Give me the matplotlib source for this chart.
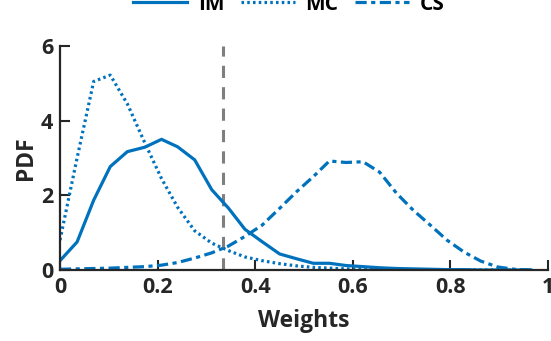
import matplotlib
matplotlib.use("Agg")
import matplotlib.pyplot as plt

# grid of weights shared by the three density estimates
weights = [0.0, 0.035, 0.069, 0.103, 0.138, 0.174, 0.208, 0.241, 0.276, 0.311,
           0.345, 0.379, 0.414, 0.45, 0.485, 0.519, 0.552, 0.586, 0.621, 0.655,
           0.69, 0.724, 0.759, 0.793, 0.828, 0.862, 0.897, 0.931, 0.965]

pdf_im = [0.25, 0.75, 1.87, 2.77, 3.17, 3.29, 3.5, 3.3, 2.95, 2.15,
          1.66, 1.09, 0.76, 0.43, 0.3, 0.18, 0.18, 0.12, 0.09, 0.06,
          0.04, 0.03, 0.02, 0.01, 0.01, 0.0, 0.0, 0.0, 0.0]

pdf_mc = [0.8, 3.0, 5.05, 5.22, 4.45, 3.4, 2.45, 1.68, 1.05, 0.72,
          0.52, 0.35, 0.25, 0.17, 0.11, 0.07, 0.05, 0.03, 0.02, 0.01,
          0.01, 0.0, 0.0, 0.0, 0.0, 0.0, 0.0, 0.0, 0.0]

pdf_cs = [0.02, 0.03, 0.04, 0.05, 0.07, 0.09, 0.13, 0.2, 0.32, 0.46,
          0.64, 0.9, 1.2, 1.65, 2.1, 2.5, 2.92, 2.88, 2.9, 2.62,
          2.05, 1.6, 1.2, 0.8, 0.48, 0.24, 0.08, 0.02, 0.0]

threshold = 1 / 3
blue = "#0072BD"

plt.rcParams["font.family"] = ["Open Sans", "DejaVu Sans"]
plt.rcParams["font.weight"] = "bold"

fig = plt.figure(figsize=(5.51, 3.41), dpi=100)
ax = fig.add_axes([60 / 551, 71 / 341, 488 / 551, 224 / 341])

ax.plot(weights, pdf_im, color=blue, lw=2.3, label="IM")
ax.plot(weights, pdf_mc, color=blue, lw=2.3, linestyle=(0, (0.8, 1.0)), label="MC")
ax.plot(weights, pdf_cs, color=blue, lw=2.3, linestyle=(0, (3.5, 1.4, 1.3, 1.4)), label="CS")
ax.axvline(threshold, color="#7f7f7f", lw=2.2, linestyle=(0, (4, 3)), zorder=1)

ax.set_xlim(0, 1)
ax.set_ylim(0, 6)
ax.set_xticks([0, 0.2, 0.4, 0.6, 0.8, 1])
ax.set_xticklabels(["0", "0.2", "0.4", "0.6", "0.8", "1"])
ax.set_yticks([0, 2, 4, 6])

for side in ["top", "right"]:
    ax.spines[side].set_visible(False)
for side in ["left", "bottom"]:
    ax.spines[side].set_linewidth(1.6)
    ax.spines[side].set_color("#262626")

ax.tick_params(direction="in", length=7, width=1.5, colors="#262626",
               labelsize=15.5, pad=5)
ax.set_xlabel("Weights", fontsize=16.5, fontweight="bold", color="#262626", labelpad=8)
ax.set_ylabel("PDF", fontsize=16.5, fontweight="bold", color="#262626", labelpad=2)

fig.legend(loc="center", bbox_to_anchor=(289 / 551, 337 / 341), ncol=3,
           frameon=False, fontsize=15, handlelength=2.6, columnspacing=0.8,
           handletextpad=0.5)

fig.savefig("out.png", dpi=100)
